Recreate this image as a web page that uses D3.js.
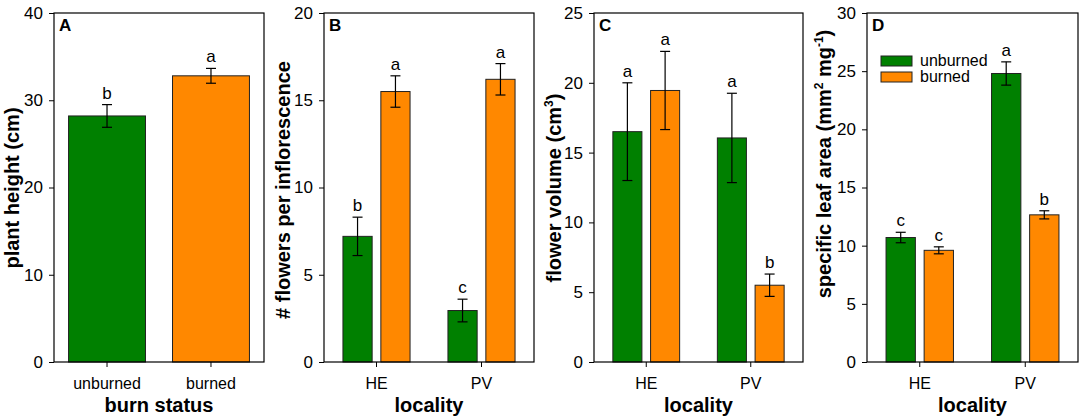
<!DOCTYPE html>
<html>
<head>
<meta charset="utf-8">
<script src="https://cdn.jsdelivr.net/npm/d3@7"></script>
<style>
  body { margin: 0; background: #fff; }
  text { font-family: Arial, "Liberation Sans", sans-serif; fill: #000; }
</style>
</head>
<body>
<svg id="chart" width="1084" height="419"></svg>
<script>
// categories
var burnStatus = ["unburned", "burned"];
var localities = ["HE", "PV"];

// A: plant height by burn status
var heightMean = [28.2, 32.8];
var heightSE = [1.3, 0.85];
var heightLetters = ["b", "a"];

// B: flowers per inflorescence (per locality)
var flowersUnburned = [7.2, 2.95];
var flowersUnburnedSE = [1.1, 0.65];
var flowersUnburnedLetters = ["b", "c"];
var flowersBurned = [15.5, 16.2];
var flowersBurnedSE = [0.9, 0.9];
var flowersBurnedLetters = ["a", "a"];

// C: flower volume
var volumeUnburned = [16.5, 16.05];
var volumeUnburnedSE = [3.5, 3.2];
var volumeUnburnedLetters = ["a", "a"];
var volumeBurned = [19.45, 5.5];
var volumeBurnedSE = [2.8, 0.8];
var volumeBurnedLetters = ["a", "b"];

// D: specific leaf area
var slaUnburned = [10.7, 24.8];
var slaUnburnedSE = [0.45, 1.0];
var slaUnburnedLetters = ["c", "a"];
var slaBurned = [9.6, 12.65];
var slaBurnedSE = [0.3, 0.35];
var slaBurnedLetters = ["c", "b"];

// tick labels
var ticksA = [0, 10, 20, 30, 40];
var ticksB = [0, 5, 10, 15, 20];
var ticksC = [0, 5, 10, 15, 20, 25];
var ticksD = [0, 5, 10, 15, 20, 25, 30];

var colors = { unburned: "#008000", burned: "#ff8800" };

var svg = d3.select("#chart");
var top_ = 13, bottom_ = 362;

function grouped(unb, unbSE, unbL, bur, burSE, burL) {
    var out = [];
    localities.forEach(function(loc, i) {
        out.push({ group: loc, status: "unburned", mean: unb[i], se: unbSE[i], letter: unbL[i] });
        out.push({ group: loc, status: "burned", mean: bur[i], se: burSE[i], letter: burL[i] });
    });
    return out;
}

var panels = [
    {
        label: "A", left: 54, right: 264, ticks: ticksA, xTitle: "burn status",
        yTitle: [["plant height (cm)"]], titleX: 19, titleY: 188,
        records: burnStatus.map(function(s, i) {
            return { group: s, status: s, mean: heightMean[i], se: heightSE[i], letter: heightLetters[i] };
        })
    },
    {
        label: "B", left: 324, right: 534, ticks: ticksB, xTitle: "locality",
        yTitle: [["# flowers per inflorescence"]], titleX: 290, titleY: 190,
        records: grouped(flowersUnburned, flowersUnburnedSE, flowersUnburnedLetters,
                         flowersBurned, flowersBurnedSE, flowersBurnedLetters)
    },
    {
        label: "C", left: 594, right: 803, ticks: ticksC, xTitle: "locality",
        yTitle: [["flower volume (cm"], ["3", "sup"], [")"]], titleX: 561, titleY: 188,
        records: grouped(volumeUnburned, volumeUnburnedSE, volumeUnburnedLetters,
                         volumeBurned, volumeBurnedSE, volumeBurnedLetters)
    },
    {
        label: "D", left: 867, right: 1078, ticks: ticksD, xTitle: "locality",
        yTitle: [["specific leaf area (mm"], ["2", "sup"], [" mg"], ["-1", "sup"], [")"]],
        titleX: 831, titleY: 164, legend: true,
        records: grouped(slaUnburned, slaUnburnedSE, slaUnburnedLetters,
                         slaBurned, slaBurnedSE, slaBurnedLetters)
    }
];

panels.forEach(drawPanel);

function drawPanel(p) {
    var g = svg.append("g");
    var yMax = p.ticks[p.ticks.length - 1];
    var y = d3.scaleLinear().domain([0, yMax]).range([bottom_, top_]);

    var single = p.label === "A";
    var x0, x1;
    if (single) {
        x0 = d3.scaleBand().domain(burnStatus).range([p.left, p.right])
            .paddingInner(0.26).paddingOuter(0.14);
    } else {
        x0 = d3.scaleBand().domain(localities).range([p.left, p.right]);
        x1 = d3.scaleBand().domain(burnStatus).range([0, x0.bandwidth()])
            .paddingInner(0.23).paddingOuter(0.5);
    }
    var barX = (d) => single ? x0(d.group) : x0(d.group) + x1(d.status);
    var barW = single ? x0.bandwidth() : x1.bandwidth();

    // bars
    g.selectAll("rect.bar")
        .data(p.records)
        .enter()
        .append("rect")
        .attr("class", "bar")
        .attr("x", (d) => barX(d))
        .attr("y", (d) => y(d.mean))
        .attr("width", barW)
        .attr("height", (d) => y(0) - y(d.mean))
        .style("fill", (d) => colors[d.status])
        .style("stroke", "#222")
        .style("stroke-width", 1);

    // error bars
    var eb = g.selectAll("g.err")
        .data(p.records)
        .enter()
        .append("g")
        .attr("class", "err")
        .attr("transform", (d) => "translate(" + (barX(d) + barW / 2) + ",0)");
    eb.append("line")
        .attr("y1", (d) => y(d.mean + d.se))
        .attr("y2", (d) => y(d.mean - d.se))
        .style("stroke", "#000").style("stroke-width", 1.2);
    eb.append("line")
        .attr("x1", -5).attr("x2", 5)
        .attr("y1", (d) => y(d.mean + d.se))
        .attr("y2", (d) => y(d.mean + d.se))
        .style("stroke", "#000").style("stroke-width", 1.2);
    eb.append("line")
        .attr("x1", -5).attr("x2", 5)
        .attr("y1", (d) => y(d.mean - d.se))
        .attr("y2", (d) => y(d.mean - d.se))
        .style("stroke", "#000").style("stroke-width", 1.2);
    eb.append("text")
        .attr("y", (d) => y(d.mean + d.se) - 6)
        .attr("text-anchor", "middle")
        .style("font-size", "17px")
        .text((d) => d.letter);

    // axes
    var yAxis = g.append("g")
        .attr("transform", "translate(" + p.left + ",0)")
        .call(d3.axisLeft(y).tickValues(p.ticks).tickSize(5).tickPadding(6).tickSizeOuter(0));
    yAxis.select(".domain").remove();
    yAxis.selectAll("text").style("font-size", "17px").attr("font-family", null);
    yAxis.selectAll("line").style("stroke", "#000");

    var xAxis = g.append("g")
        .attr("transform", "translate(0," + bottom_ + ")")
        .call(d3.axisBottom(x0).tickSize(5).tickPadding(11).tickSizeOuter(0));
    xAxis.select(".domain").remove();
    xAxis.selectAll("text").style("font-size", "16px").attr("font-family", null);
    xAxis.selectAll("line").style("stroke", "#000");

    // frame
    g.append("rect")
        .attr("x", p.left).attr("y", top_)
        .attr("width", p.right - p.left).attr("height", bottom_ - top_)
        .style("fill", "none").style("stroke", "#000").style("stroke-width", 1.2);

    // panel label
    g.append("text")
        .attr("x", p.left + 5).attr("y", top_ + 18)
        .style("font-size", "17px").style("font-weight", "bold")
        .text(p.label);

    // x title
    g.append("text")
        .attr("x", (p.left + p.right) / 2).attr("y", 412)
        .attr("text-anchor", "middle")
        .style("font-size", "20px").style("font-weight", "bold")
        .text(p.xTitle);

    // y title
    var yt = g.append("text")
        .attr("transform", "translate(" + p.titleX + "," + p.titleY + ") rotate(-90)")
        .attr("text-anchor", "middle")
        .style("font-size", "20px").style("font-weight", "bold");
    p.yTitle.forEach(function(part, i) {
        var t = yt.append("tspan").text(part[0]);
        if (part[1] === "sup") {
            t.style("font-size", "12px").attr("dy", -8);
        } else if (i > 0 && p.yTitle[i - 1][1] === "sup") {
            t.attr("dy", 8);
        }
    });

    // legend
    if (p.legend) {
        var lg = g.append("g").attr("transform", "translate(" + (p.left + 14) + ",56)");
        burnStatus.forEach(function(s, i) {
            lg.append("rect")
                .attr("x", 0).attr("y", i * 16)
                .attr("width", 31).attr("height", 10)
                .style("fill", colors[s]).style("stroke", "#222");
            lg.append("text")
                .attr("x", 39).attr("y", i * 16 + 10)
                .style("font-size", "16px")
                .text(s);
        });
    }
}
</script>
</body>
</html>
